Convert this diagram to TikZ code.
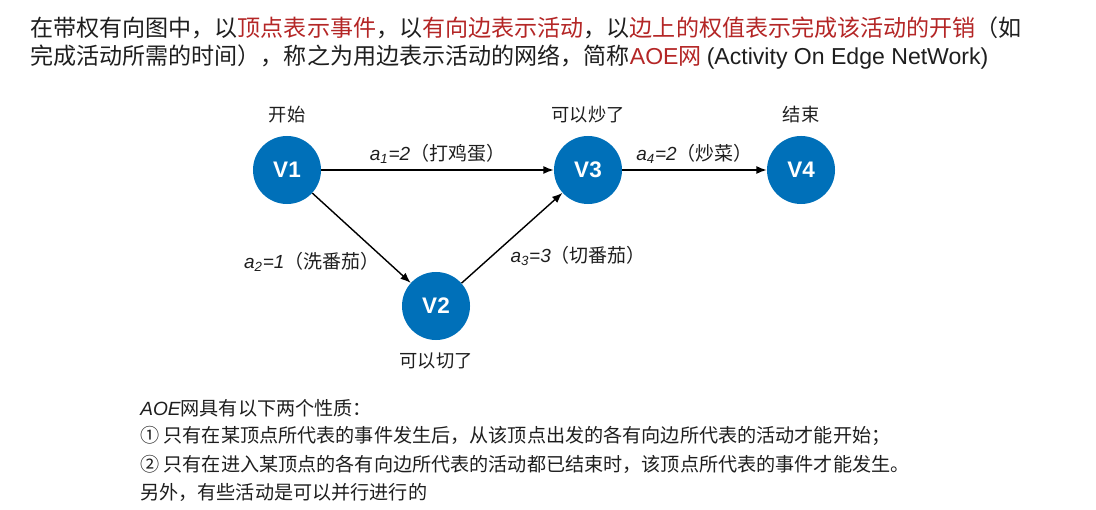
\documentclass[tikz,border=0pt]{standalone}
\usepackage{fontspec}
\setmainfont{Noto Sans CJK SC}
\newfontfamily\latfont{Liberation Sans}
\usepackage{xcolor}
\definecolor{aoeblue}{RGB}{0,112,185}
\definecolor{aoered}{RGB}{180,38,38}
\definecolor{aoetext}{RGB}{30,30,30}
\usetikzlibrary{arrows.meta, positioning}
\newcommand{\lat}[1]{{\latfont #1}}
\newcommand{\act}[2]{{\latfont\itshape a\textsubscript{#1}=#2}}

\begin{document}
\begin{tikzpicture}[x=0.025cm, y=-0.025cm,
  event/.style={circle, fill=aoeblue, minimum size=1.7cm, inner sep=0pt,
                text=white, font=\latfont\bfseries\fontsize{16}{18}\selectfont},
  tag/.style={inner sep=0pt, text=aoetext, font=\fontsize{13}{15}\selectfont},
  actlabel/.style={inner sep=0pt, text=aoetext, font=\fontsize{13.5}{16}\selectfont},
  activity/.style={-{Latex[length=2.6mm, width=2mm]}, line width=1pt, black},
  headtext/.style={anchor=west, inner sep=0pt, text=aoetext, font=\fontsize{16.4}{19}\selectfont},
  bodytext/.style={anchor=west, inner sep=0pt, text=aoetext, font=\fontsize{13.6}{16}\selectfont}]

\useasboundingbox (0,0) rectangle (1096,510);

% --- Heading ---
\node[headtext] (head1) at (30,28) {在带权有向图中，以\textcolor{aoered}{顶点表示事件}，以\textcolor{aoered}{有向边表示活动}，以\textcolor{aoered}{边上的权值表示完成该活动的开销}（如};
\node[headtext] (head2) at (30,57) {完成活动所需的时间），称之为用边表示活动的网络，简称\textcolor{aoered}{\lat{AOE}网} \lat{(Activity On Edge NetWork)}};

% --- Events ---
\node[event] (v1) at (287,170) {V1};
\node[event] (v2) at (436,306) {V2};
\node[event] (v3) at (588,170) {V3};
\node[event] (v4) at (801,170) {V4};

\node[tag, above=0.32cm of v1] (v1tag) {开始};
\node[tag, above=0.32cm of v3] (v3tag) {可以炒了};
\node[tag, above=0.32cm of v4] (v4tag) {结束};
\node[tag, below=0.3cm of v2] (v2tag) {可以切了};

% --- Activities ---
\draw[activity] (v1) -- (v3)
      node[actlabel, midway, above=0.15cm] {\act{1}{2}（打鸡蛋）};
\draw[activity] (v1) -- (v2)
      node[actlabel, pos=0.77, left=0.2cm] {\act{2}{1}（洗番茄）};
\draw[activity] (v2) -- (v3)
      node[actlabel, pos=0.3, right=0.45cm] {\act{3}{3}（切番茄）};
\draw[activity] (v3) -- (v4)
      node[actlabel, midway, above=0.15cm] {\act{4}{2}（炒菜）};

% --- Properties ---
\node[bodytext] (prop0) at (140,408) {\lat{\itshape AOE}网具有以下两个性质：};
\node[bodytext] (prop1) at (140,436) {① 只有在某顶点所代表的事件发生后，从该顶点出发的各有向边所代表的活动才能开始；};
\node[bodytext] (prop2) at (140,464) {② 只有在进入某顶点的各有向边所代表的活动都已结束时，该顶点所代表的事件才能发生。};
\node[bodytext] (prop3) at (140,492) {另外，有些活动是可以并行进行的};

\end{tikzpicture}
\end{document}
